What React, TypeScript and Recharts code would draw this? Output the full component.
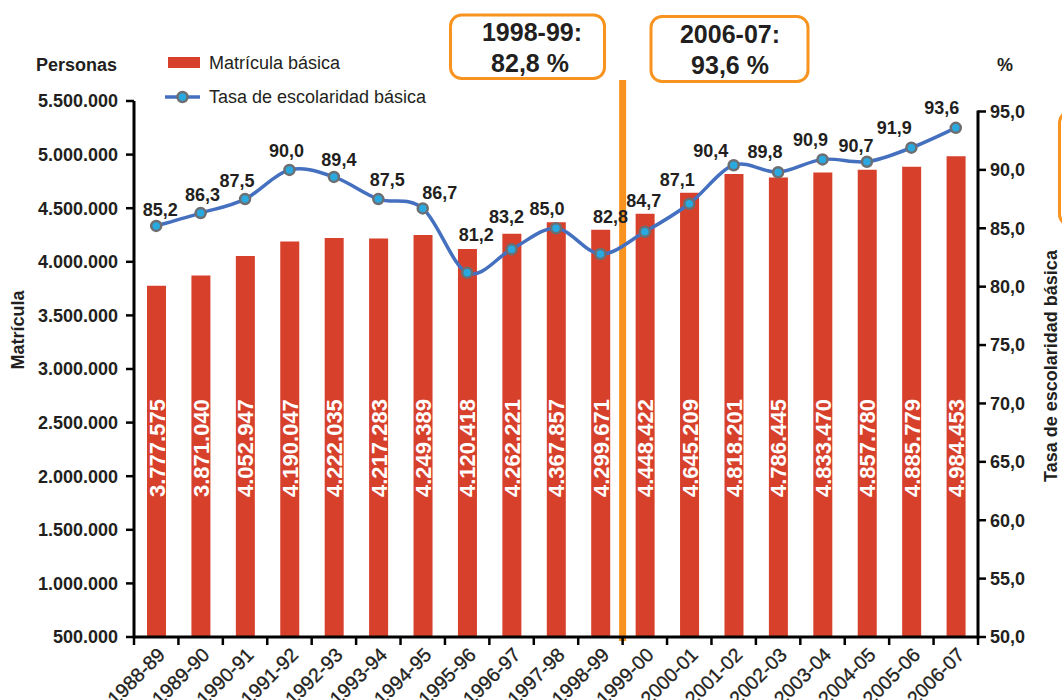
import React from "react"
import { ComposedChart, Bar, Line, XAxis, YAxis, LabelList } from "recharts"

const periodos = [
  "1988-89", "1989-90", "1990-91", "1991-92", "1992-93", "1993-94", "1994-95",
  "1995-96", "1996-97", "1997-98", "1998-99", "1999-00", "2000-01", "2001-02",
  "2002-03", "2003-04", "2004-05", "2005-06", "2006-07",
]

const matricula = [
  3777575, 3871040, 4052947, 4190047, 4222035, 4217283, 4249389, 4120418,
  4262221, 4367857, 4299671, 4448422, 4645209, 4818201, 4786445, 4833470,
  4857780, 4885779, 4984453,
]

const tasa = [
  85.2, 86.3, 87.5, 90.0, 89.4, 87.5, 86.7, 81.2, 83.2, 85.0, 82.8, 84.7,
  87.1, 90.4, 89.8, 90.9, 90.7, 91.9, 93.6,
]

const matriculaTicks = [
  500000, 1000000, 1500000, 2000000, 2500000, 3000000, 3500000, 4000000,
  4500000, 5000000, 5500000,
]
const tasaTicks = [50, 55, 60, 65, 70, 75, 80, 85, 90, 95]

// nudges for the rate labels: [dx, px above the point]
const labelNudge: [number, number][] = [
  [4, 10], [2, 12], [-8, 12], [-3, 13], [5, 11], [9, 13], [17, 9], [9, 32],
  [-5, 26], [-9, 13], [10, 31], [-1, 25], [-12, 18], [-23, 8], [-13, 14],
  [-12, 13], [-11, 10], [-17, 14], [-14, 14],
]

const data = periodos.map((p, i) => ({
  periodo: p,
  matricula: matricula[i],
  tasa: tasa[i],
}))

const W = 1062
const H = 700
const PLOT_L = 134
const PLOT_R = 978
const PLOT_T = 101
const PLOT_B = 637
const RATE_TOP_Y = 111.5 // where 95,0 sits on the right axis
const BAND = (PLOT_R - PLOT_L) / periodos.length
const RATE_MAX = 50 + ((PLOT_B - PLOT_T) * 45) / (PLOT_B - RATE_TOP_Y)

const FONT = '"Liberation Sans", Arial, Helvetica, sans-serif'
const INK = "#231F20"
const RED = "#D7402B"
const BLUE = "#4470BF"
const DOT = "#29A9E0"
const DOT_RING = "#6D6E71"
const ORANGE = "#F7931E"

const fmtMiles = (n: number) =>
  Math.round(n).toString().replace(/\B(?=(\d{3})+(?!\d))/g, ".")
const fmtPct = (n: number) => n.toFixed(1).replace(".", ",")

// Excel-like smoothed line (Catmull-Rom through every point)
class CatmullRomCurve {
  ctx: any
  pts: [number, number][] = []
  area = NaN
  constructor(ctx: any) {
    this.ctx = ctx
  }
  areaStart() {
    this.area = 0
  }
  areaEnd() {
    this.area = NaN
  }
  lineStart() {
    this.pts = []
  }
  point(x: number, y: number) {
    this.pts.push([+x, +y])
  }
  lineEnd() {
    const p = this.pts
    const c = this.ctx
    if (!p.length) return
    if (this.area === 0) c.lineTo(p[0][0], p[0][1])
    else c.moveTo(p[0][0], p[0][1])
    for (let i = 0; i < p.length - 1; i++) {
      const p0 = p[i - 1] || p[i]
      const p1 = p[i]
      const p2 = p[i + 1]
      const p3 = p[i + 2] || p[i + 1]
      c.bezierCurveTo(
        p1[0] + (p2[0] - p0[0]) / 6,
        p1[1] + (p2[1] - p0[1]) / 6,
        p2[0] - (p3[0] - p1[0]) / 6,
        p2[1] - (p3[1] - p1[1]) / 6,
        p2[0],
        p2[1],
      )
    }
  }
}
const smoothCurve = (ctx: any) => new CatmullRomCurve(ctx)

function XTick(props: any) {
  const { x, y, payload, index } = props
  const half = BAND / 2
  const ax = x + 10
  const ay = y + 19
  return (
    <g>
      <line x1={x - half} x2={x - half} y1={y} y2={y + 8} stroke="#000" strokeWidth={2.5} />
      {index === periodos.length - 1 && (
        <line x1={x + half} x2={x + half} y1={y} y2={y + 8} stroke="#000" strokeWidth={2.5} />
      )}
      <text
        x={ax}
        y={ay}
        transform={`rotate(-45 ${ax} ${ay})`}
        textAnchor="end"
        fill={INK}
        stroke={INK}
        strokeWidth={0.3}
        fontSize={19.5}
        fontFamily={FONT}
      >
        {payload.value}
      </text>
    </g>
  )
}

function BarValue(props: any) {
  const vb = props.viewBox || {}
  const x = props.x ?? vb.x
  const w = props.width ?? vb.width
  const cx = x + w / 2 + 8
  const cy = PLOT_B - 140
  return (
    <text
      x={cx}
      y={cy}
      transform={`rotate(-90 ${cx} ${cy})`}
      textAnchor="start"
      fill="#fff"
      fontSize={22}
      fontWeight={700}
      fontFamily={FONT}
    >
      {fmtMiles(Number(props.value))}
    </text>
  )
}

function RateValue(props: any) {
  const vb = props.viewBox || {}
  const x = props.x ?? vb.x
  const y = props.y ?? vb.y
  const [dx, up] = labelNudge[props.index] ?? [0, 12]
  return (
    <text
      x={x + dx}
      y={y - up}
      textAnchor="middle"
      fill={INK}
      fontSize={18}
      fontWeight={700}
      fontFamily={FONT}
    >
      {fmtPct(Number(props.value))}
    </text>
  )
}

const tickText = { fill: INK, fontSize: 18, fontWeight: 700, fontFamily: FONT }
const boldText = { fill: INK, fontSize: 18, fontWeight: 700, fontFamily: FONT }

export default function App() {
  const splitX = PLOT_L + periodos.indexOf("1999-00") * BAND
  return (
    <div
      style={{
        position: "absolute",
        left: 0,
        top: 0,
        width: W,
        height: H,
        overflow: "hidden",
        background: "#fff",
      }}
    >
      <svg width={W} height={H} style={{ position: "absolute", left: 0, top: 0 }}>
        <rect x={splitX - 3.5} y={80} width={7} height={PLOT_B + 4 - 80} fill={ORANGE} />
        <line x1={PLOT_R} x2={PLOT_R} y1={RATE_TOP_Y - 1} y2={PLOT_B + 1.5} stroke="#000" strokeWidth={3} />
      </svg>

      <div style={{ position: "absolute", left: 0, top: 0 }}>
        <ComposedChart
          width={W}
          height={H}
          data={data}
          margin={{ top: PLOT_T, right: 0, bottom: 0, left: 0 }}
        >
          <XAxis
            dataKey="periodo"
            interval={0}
            height={H - PLOT_B}
            tickLine={false}
            tickSize={0}
            tickMargin={0}
            axisLine={{ stroke: "#000", strokeWidth: 3 }}
            tick={(p: any) => <XTick {...p} />}
          />
          <YAxis
            yAxisId="left"
            width={PLOT_L}
            domain={[500000, 5500000]}
            ticks={matriculaTicks}
            tickFormatter={fmtMiles}
            tickSize={8}
            tickMargin={8}
            tick={tickText}
            axisLine={{ stroke: "#000", strokeWidth: 3 }}
            tickLine={{ stroke: "#000", strokeWidth: 2.5 }}
          />
          <YAxis
            yAxisId="right"
            orientation="right"
            width={W - PLOT_R}
            domain={[50, RATE_MAX]}
            ticks={tasaTicks}
            tickFormatter={fmtPct}
            tickSize={8}
            tickMargin={4}
            tick={{ ...tickText, textAnchor: "start" }}
            axisLine={false}
            tickLine={{ stroke: "#000", strokeWidth: 2.5 }}
          />
          <Bar
            yAxisId="left"
            dataKey="matricula"
            fill={RED}
            barSize={19}
            isAnimationActive={false}
          >
            <LabelList dataKey="matricula" content={BarValue} />
          </Bar>
          <Line
            yAxisId="right"
            dataKey="tasa"
            type={smoothCurve as any}
            stroke={BLUE}
            strokeWidth={3.5}
            dot={{ r: 5, fill: DOT, stroke: DOT_RING, strokeWidth: 2.5 }}
            activeDot={false}
            isAnimationActive={false}
          >
            <LabelList dataKey="tasa" content={RateValue} />
          </Line>
        </ComposedChart>
      </div>

      <svg
        width={W}
        height={H}
        style={{ position: "absolute", left: 0, top: 0, pointerEvents: "none" }}
      >
        <text x={36} y={71} {...boldText}>Personas</text>
        <text x={997} y={71} {...boldText}>%</text>
        <text transform="translate(23.5 330) rotate(-90)" textAnchor="middle" {...boldText}>
          Matrícula
        </text>
        <text transform="translate(1057 366) rotate(-90)" textAnchor="middle" {...boldText}>
          Tasa de escolaridad básica
        </text>

        <rect x={168} y={57} width={32} height={11} fill={RED} />
        <text x={209} y={69} fill={INK} fontSize={18} fontFamily={FONT}>
          Matrícula básica
        </text>
        <line x1={165} x2={200} y1={97} y2={97} stroke={BLUE} strokeWidth={3.5} />
        <circle cx={182.5} cy={97} r={5} fill={DOT} stroke={DOT_RING} strokeWidth={2.5} />
        <text x={209} y={103} fill={INK} fontSize={18} fontFamily={FONT}>
          Tasa de escolaridad básica
        </text>

        <rect x={450.5} y={15} width={154} height={63.5} rx={11} fill="#fff" stroke={ORANGE} strokeWidth={3} />
        <text x={532} y={41} textAnchor="middle" fill={INK} fontSize={25} fontWeight={700} fontFamily={FONT}>
          1998-99:
        </text>
        <text x={530} y={72} textAnchor="middle" fill={INK} fontSize={25} fontWeight={700} fontFamily={FONT}>
          82,8 %
        </text>

        <rect x={651} y={16.5} width={157} height={65} rx={11} fill="#fff" stroke={ORANGE} strokeWidth={3} />
        <text x={730} y={43} textAnchor="middle" fill={INK} fontSize={25} fontWeight={700} fontFamily={FONT}>
          2006-07:
        </text>
        <text x={730} y={74} textAnchor="middle" fill={INK} fontSize={25} fontWeight={700} fontFamily={FONT}>
          93,6 %
        </text>

        <rect x={1059.5} y={111} width={40} height={115} rx={12} fill="none" stroke={ORANGE} strokeWidth={3} />
      </svg>
    </div>
  )
}
